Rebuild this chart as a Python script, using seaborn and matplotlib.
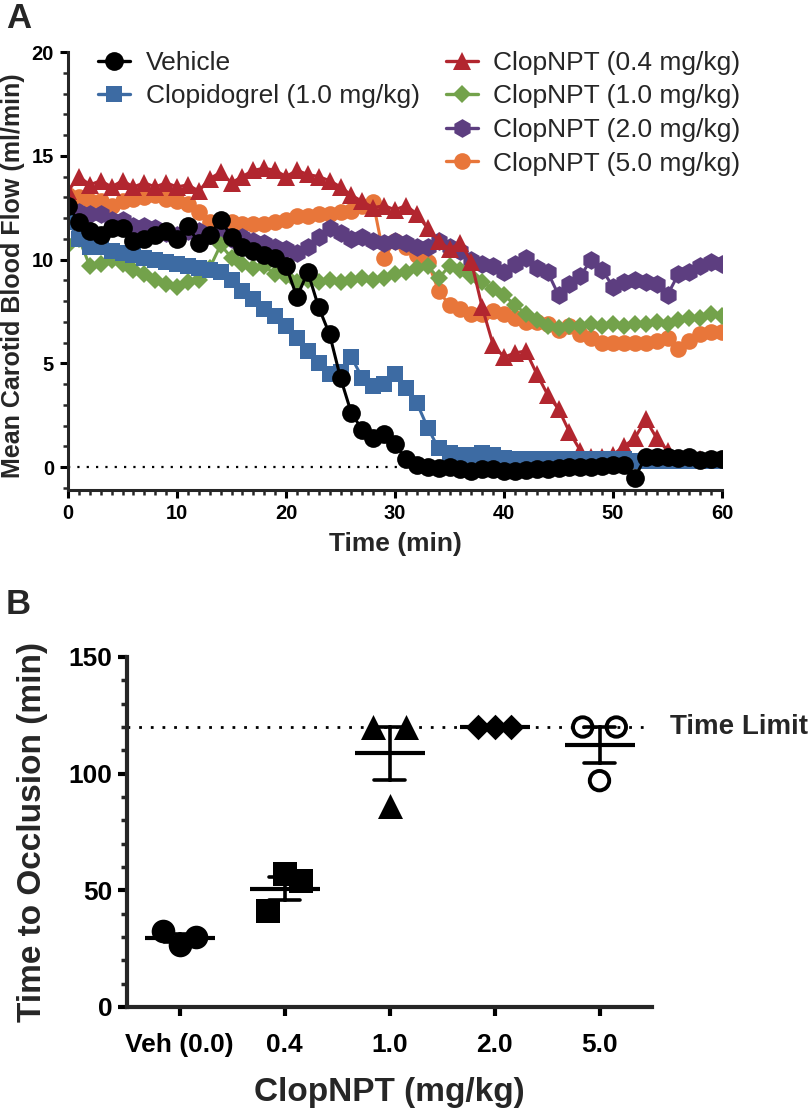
import numpy as np
import pandas as pd
import seaborn as sns
import matplotlib.pyplot as plt
from matplotlib.lines import Line2D
from matplotlib.ticker import MultipleLocator

# ---- Panel A: mean carotid blood flow (ml/min), one reading per minute ----
time_min = list(range(61))

vehicle = [12.6, 11.8, 11.4, 11.2, 11.5, 11.5, 10.9, 11.0, 11.2, 11.4,
           11.0, 11.6, 10.8, 11.2, 11.9, 11.1, 10.6, 10.4, 10.2, 10.1,
           9.7, 8.2, 9.4, 7.7, 6.4, 4.3, 2.6, 1.8, 1.4, 1.6,
           1.1, 0.4, 0.1, 0.0, -0.05, 0.0, -0.1, -0.2, -0.1, -0.1,
           -0.2, -0.2, -0.15, -0.1, -0.1, -0.05, 0.0, 0.0, 0.0, 0.05,
           0.1, 0.1, -0.5, 0.5, 0.5, 0.5, 0.45, 0.5, 0.35, 0.4, 0.4]

clopidogrel = [11.8, 11.0, 10.6, 10.6, 10.4, 10.3, 10.2, 10.1, 10.0, 9.9,
               9.8, 9.7, 9.6, 9.5, 9.4, 9.0, 8.5, 8.1, 7.6, 7.3,
               6.8, 6.2, 5.6, 5.0, 4.5, 4.6, 5.3, 4.3, 3.9, 4.0,
               4.5, 3.8, 3.1, 1.9, 0.9, 0.7, 0.6, 0.6, 0.7, 0.6,
               0.45, 0.4, 0.4, 0.4, 0.4, 0.4, 0.4, 0.4, 0.4, 0.4,
               0.4, 0.4, 0.3, 0.3, 0.3, 0.3, 0.3, 0.3, 0.3, 0.3, 0.3]

clopnpt_04 = [13.3, 14.0, 13.6, 13.8, 13.5, 13.8, 13.5, 13.7, 13.5, 13.7,
              13.5, 13.6, 13.3, 13.9, 14.2, 13.7, 14.0, 14.3, 14.4, 14.3,
              14.0, 14.3, 14.1, 14.0, 13.8, 13.5, 13.1, 12.8, 12.5, 12.6,
              12.4, 12.6, 12.2, 11.5, 10.9, 10.5, 10.8, 9.9, 7.7, 5.9,
              5.3, 5.5, 5.6, 4.5, 3.5, 2.8, 1.7, 0.8, 0.5, 0.5,
              0.6, 1.0, 1.4, 2.3, 1.4, 0.8, 0.4, 0.4, 0.4, 0.4, 0.4]

clopnpt_10 = [10.7, 11.0, 9.7, 9.8, 10.0, 9.8, 9.5, 9.3, 9.0, 8.8,
              8.7, 8.9, 9.0, 9.6, 10.7, 10.1, 9.8, 9.6, 9.7, 9.3,
              9.2, 8.9, 9.0, 8.9, 9.0, 8.9, 9.0, 9.1, 9.0, 9.1,
              9.3, 9.4, 9.6, 9.7, 9.1, 9.7, 9.5, 9.2, 8.9, 8.6,
              8.3, 7.8, 7.4, 7.1, 6.8, 6.7, 6.8, 6.8, 6.9, 6.8,
              6.9, 6.8, 6.9, 6.9, 7.0, 6.9, 7.1, 7.2, 7.2, 7.4, 7.3]

clopnpt_20 = [12.4, 12.3, 12.2, 12.2, 11.9, 11.9, 11.6, 11.6, 11.5, 11.3,
              11.2, 11.4, 11.4, 11.2, 11.3, 11.0, 11.1, 10.9, 10.8, 10.6,
              10.5, 10.3, 10.6, 11.1, 11.5, 11.3, 11.0, 11.1, 10.9, 10.8,
              10.9, 10.8, 10.6, 10.6, 10.9, 10.6, 10.4, 10.0, 9.8, 9.7,
              9.4, 9.8, 10.1, 9.6, 9.4, 8.3, 8.8, 9.2, 10.0, 9.5,
              8.7, 8.9, 9.0, 8.9, 8.8, 8.3, 9.3, 9.4, 9.7, 9.9, 9.8]

clopnpt_50 = [13.1, 13.0, 12.8, 12.8, 12.6, 12.8, 12.9, 13.0, 13.1, 12.9,
              12.8, 12.7, 12.3, 11.8, 11.8, 11.8, 11.7, 11.7, 11.7, 11.8,
              11.9, 12.1, 12.1, 12.2, 12.2, 12.3, 12.35, 12.6, 12.75, 10.1,
              10.9, 10.6, 10.2, 9.9, 8.5, 7.8, 7.6, 7.4, 7.4, 7.5,
              7.4, 7.2, 7.0, 7.0, 6.9, 6.6, 6.8, 6.4, 6.2, 6.0,
              6.0, 6.0, 6.0, 6.0, 6.1, 6.2, 5.7, 6.1, 6.4, 6.5, 6.5]

series_names = ["Vehicle", "Clopidogrel (1.0 mg/kg)", "ClopNPT (0.4 mg/kg)",
                "ClopNPT (1.0 mg/kg)", "ClopNPT (2.0 mg/kg)", "ClopNPT (5.0 mg/kg)"]
series_values = [vehicle, clopidogrel, clopnpt_04, clopnpt_10, clopnpt_20, clopnpt_50]

# ---- Panel B: time to occlusion (min) per animal (animals 1-3, left to right) ----
dose_labels = ["Veh (0.0)", "0.4", "1.0", "2.0", "5.0"]
animal_ids = ["1", "2", "3"]
occl_veh = [32.5, 26.5, 30.0]
occl_04 = [41.0, 57.0, 54.0]
occl_10 = [120.0, 86.0, 120.0]
occl_20 = [120.0, 120.0, 120.0]
occl_50 = [120.0, 97.0, 120.0]
time_limit = 120

# styles (colour, marker, marker size)
line_styles = [("black", "o", 13.5), ("#3D6BA3", "s", 11.5), ("#B2262F", "^", 13),
               ("#73A24B", "D", 9), ("#5D3E80", "h", 13.5), ("#E8763A", "o", 12)]
dot_markers = [("o", 17), ("s", 17), ("^", 18), ("D", 13), ("o", 14)]
open_groups = ["5.0"]

sns.set_theme(style="ticks")
plt.rcParams["font.family"] = ["Liberation Sans", "DejaVu Sans"]
plt.rcParams["axes.linewidth"] = 2.2

W, H = 809, 1108
fig = plt.figure(figsize=(W / 100, H / 100), dpi=100)

# ================= Panel A =================
axA = fig.add_axes([68 / W, 1 - 490 / H, (722 - 68) / W, (490 - 52) / H])

# first series ends up on top, so draw in reverse
for i in reversed(range(len(series_values))):
    col, mk, ms = line_styles[i]
    sns.lineplot(x=time_min, y=series_values[i], color=col, marker=mk,
                 markersize=ms, markeredgewidth=0, linewidth=2.2,
                 errorbar=None, ax=axA, zorder=10 - i, legend=False)

axA.axhline(0, color="black", lw=1.6, ls=(0, (1, 3.2)), zorder=1)

axA.set_xlim(0, 60)
axA.set_ylim(-1.1, 20)
axA.xaxis.set_major_locator(MultipleLocator(10))
axA.xaxis.set_minor_locator(MultipleLocator(1))
axA.yaxis.set_major_locator(MultipleLocator(5))
axA.yaxis.set_minor_locator(MultipleLocator(1))
for s in ["top", "right"]:
    axA.spines[s].set_visible(False)
for s in ["left", "bottom"]:
    axA.spines[s].set_linewidth(2.2)
    axA.spines[s].set_zorder(20)
axA.tick_params(which="major", length=6, width=2.2, direction="out", pad=4,
                labelsize=14.5, colors="black")
axA.tick_params(which="minor", length=3.5, width=1.8, direction="out")
for lab in axA.get_xticklabels() + axA.get_yticklabels():
    lab.set_fontweight("bold")

axA.set_xlabel("Time (min)", fontsize=19, fontweight="bold")
axA.set_ylabel("Mean Carotid Blood Flow (ml/min)", fontsize=18, fontweight="bold")
axA.xaxis.set_label_coords(0.5, -0.095)
axA.yaxis.set_label_coords(-0.066, 0.49)

handles = []
labels = []
blank = Line2D([], [], linestyle="none", marker="")
order = [0, 1, None, None, 2, 3, 4, 5]
for k in order:
    if k is None:
        handles.append(blank)
        labels.append("")
        continue
    col, mk, ms = line_styles[k]
    handles.append(Line2D([], [], color=col, marker=mk, markersize=ms,
                          markeredgewidth=0, linewidth=2.4))
    labels.append(series_names[k])
axA.legend(handles, labels, ncol=2, loc="upper left",
           bbox_to_anchor=(98 / W, 1 - 51 / H), bbox_transform=fig.transFigure,
           frameon=False, fontsize=19, handlelength=1.2, handletextpad=0.6,
           labelspacing=0.36, columnspacing=1.0, borderpad=0, borderaxespad=0)

fig.text(6 / W, 1 - 2 / H, "A", fontsize=25, fontweight="bold", va="top", ha="left")

# ================= Panel B =================
axB = fig.add_axes([127 / W, 1 - 1007 / H, (652 - 127) / W, (1007 - 657) / H])

groups = [occl_veh, occl_04, occl_10, occl_20, occl_50]
axB.axhline(time_limit, color="black", lw=2, ls=(0, (1, 3.2)), zorder=1)

# animals side by side within each dose: dodge over five slots, use the middle three
slots = ["pad_l"] + animal_ids + ["pad_r"]
for lbl, vals, (mk, sz) in zip(dose_labels, groups, dot_markers):
    n_before = len(axB.collections)
    sns.stripplot(x=[lbl] * len(vals), y=vals, hue=animal_ids, order=dose_labels,
                  hue_order=slots, palette=["black"] * len(slots), dodge=True,
                  jitter=False, marker=mk, size=sz, linewidth=0, legend=False,
                  ax=axB, zorder=3)
    if lbl in open_groups:
        for coll in axB.collections[n_before:]:
            coll.set_facecolor("none")
            coll.set_edgecolor("black")
            coll.set_linewidth(2.8)

df_b = pd.DataFrame({
    "dose": np.repeat(dose_labels, [len(g) for g in groups]),
    "minutes": np.concatenate(groups),
})
sns.pointplot(data=df_b, x="dose", y="minutes", order=dose_labels,
              errorbar="se", capsize=0.3, color="black", marker="_",
              markersize=50, markeredgewidth=3, linestyle="none",
              err_kws={"linewidth": 2.6}, ax=axB, zorder=4)

axB.set_xlim(-0.5, 4.5)
axB.set_ylim(0, 150)
axB.yaxis.set_major_locator(MultipleLocator(50))
axB.yaxis.set_minor_locator(MultipleLocator(10))
for s in ["top", "right"]:
    axB.spines[s].set_visible(False)
for s in ["left", "bottom"]:
    axB.spines[s].set_linewidth(3)
axB.tick_params(which="major", length=6.5, width=3, direction="out",
                labelsize=19, colors="black")
axB.tick_params(axis="x", pad=12)
axB.tick_params(axis="y", pad=4)
axB.tick_params(which="minor", axis="y", length=4, width=2.5, direction="out")
for lab in axB.get_xticklabels() + axB.get_yticklabels():
    lab.set_fontweight("bold")

axB.text(4.67, time_limit, "Time Limit", fontsize=20, fontweight="bold",
         ha="left", va="center", clip_on=False)

axB.set_xlabel("ClopNPT (mg/kg)", fontsize=24, fontweight="bold")
axB.set_ylabel("Time to Occlusion (min)", fontsize=24, fontweight="bold")
axB.xaxis.set_label_coords(0.5, -0.2)
axB.yaxis.set_label_coords(-0.15, 0.5)

fig.text(6 / W, 1 - 588 / H, "B", fontsize=25, fontweight="bold", va="top", ha="left")

fig.savefig("out.png", dpi=100)
